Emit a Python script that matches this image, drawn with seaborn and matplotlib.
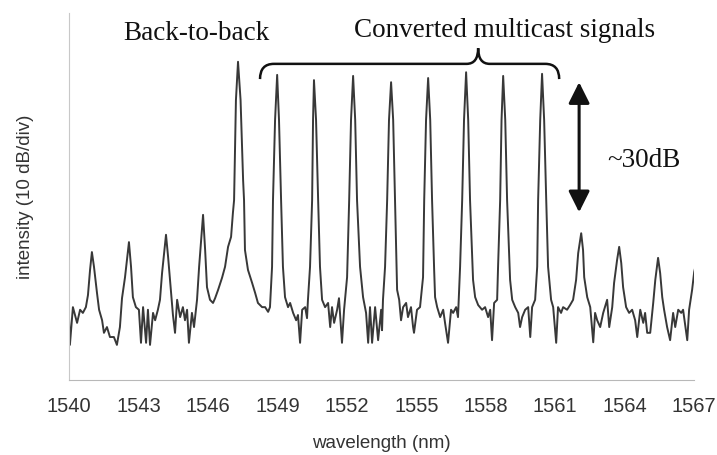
import matplotlib
matplotlib.use("Agg")
import matplotlib.pyplot as plt
import seaborn as sns
from matplotlib.path import Path
from matplotlib.patches import PathPatch, ArrowStyle

# spectrum trace: wavelength (nm), intensity (dB, 10 dB/div)
wavelength = [
    1540.00, 1540.04, 1540.17, 1540.35, 1540.48, 1540.60, 1540.73, 1540.82, 1540.91, 1540.99,
    1541.08, 1541.21, 1541.30, 1541.43, 1541.51, 1541.64, 1541.77, 1541.94, 1542.07, 1542.20,
    1542.29, 1542.42, 1542.59, 1542.68, 1542.76, 1542.89, 1543.02, 1543.11, 1543.20, 1543.33,
    1543.41, 1543.50, 1543.63, 1543.72, 1543.84, 1543.93, 1544.02, 1544.19, 1544.28, 1544.41,
    1544.49, 1544.58, 1544.67, 1544.80, 1544.92, 1545.01, 1545.10, 1545.18, 1545.31, 1545.40,
    1545.53, 1545.62, 1545.79, 1545.88, 1545.96, 1546.09, 1546.22, 1546.31, 1546.44, 1546.61,
    1546.74, 1546.87, 1547.00, 1547.08, 1547.13, 1547.21, 1547.30, 1547.41, 1547.52, 1547.56,
    1547.60, 1547.73, 1547.91, 1548.04, 1548.16, 1548.34, 1548.47, 1548.60, 1548.68, 1548.77,
    1548.81, 1548.90, 1548.99, 1549.07, 1549.16, 1549.24, 1549.33, 1549.46, 1549.55, 1549.68,
    1549.81, 1549.89, 1549.98, 1550.07, 1550.20, 1550.28, 1550.32, 1550.41, 1550.50, 1550.54,
    1550.58, 1550.67, 1550.76, 1550.84, 1550.93, 1551.06, 1551.19, 1551.28, 1551.36, 1551.45,
    1551.58, 1551.66, 1551.79, 1551.88, 1552.01, 1552.10, 1552.18, 1552.27, 1552.36, 1552.44,
    1552.57, 1552.70, 1552.83, 1552.92, 1553.00, 1553.09, 1553.22, 1553.35, 1553.48, 1553.52,
    1553.56, 1553.65, 1553.74, 1553.82, 1553.91, 1554.00, 1554.08, 1554.17, 1554.26, 1554.34,
    1554.43, 1554.56, 1554.64, 1554.77, 1554.86, 1554.90, 1555.03, 1555.16, 1555.29, 1555.34,
    1555.42, 1555.51, 1555.60, 1555.68, 1555.77, 1555.81, 1555.90, 1556.03, 1556.16, 1556.24,
    1556.37, 1556.50, 1556.59, 1556.72, 1556.80, 1556.89, 1556.98, 1557.06, 1557.15, 1557.24,
    1557.32, 1557.45, 1557.54, 1557.67, 1557.84, 1557.97, 1558.10, 1558.19, 1558.27, 1558.36,
    1558.49, 1558.53, 1558.62, 1558.68, 1558.75, 1558.84, 1558.92, 1559.05, 1559.14, 1559.27,
    1559.40, 1559.48, 1559.57, 1559.70, 1559.83, 1559.92, 1560.00, 1560.13, 1560.22, 1560.26,
    1560.35, 1560.43, 1560.52, 1560.61, 1560.69, 1560.82, 1560.91, 1561.04, 1561.12, 1561.25,
    1561.34, 1561.51, 1561.64, 1561.77, 1561.90, 1561.99, 1562.12, 1562.20, 1562.25, 1562.38,
    1562.51, 1562.64, 1562.72, 1562.81, 1562.94, 1563.07, 1563.24, 1563.33, 1563.46, 1563.54,
    1563.67, 1563.76, 1563.85, 1563.93, 1564.06, 1564.19, 1564.32, 1564.45, 1564.54, 1564.67,
    1564.80, 1564.88, 1564.97, 1565.10, 1565.23, 1565.32, 1565.44, 1565.53, 1565.62, 1565.70,
    1565.83, 1565.96, 1566.09, 1566.18, 1566.31, 1566.44, 1566.52, 1566.70, 1566.78, 1566.91,
    1567.00, 1567.04,
]
intensity = [
    12.4, 6.7, 13.9, 10.9, 13.4, 12.8, 13.9, 16.2, 21.0, 24.4,
    21.6, 16.6, 13.4, 11.4, 9.0, 10.1, 8.2, 8.2, 6.7, 10.1,
    15.6, 19.6, 26.3, 21.6, 15.8, 13.9, 13.4, 7.1, 13.9, 7.1,
    13.4, 6.7, 12.8, 11.4, 13.4, 15.3, 20.4, 27.7, 23.5, 16.6,
    12.4, 9.0, 15.3, 12.0, 13.9, 11.4, 13.4, 7.1, 12.8, 10.1,
    15.3, 21.6, 31.5, 24.8, 17.7, 15.3, 14.7, 15.6, 17.2, 19.5,
    21.6, 25.4, 27.3, 31.9, 34.3, 53.4, 60.7, 53.4, 38.1, 34.3,
    24.8, 21.0, 18.5, 16.6, 14.7, 13.9, 13.9, 13.0, 13.9, 21.6,
    34.3, 49.6, 58.2, 49.6, 34.3, 21.6, 15.8, 13.9, 14.7, 12.8,
    11.4, 12.4, 7.1, 13.4, 13.9, 11.8, 15.3, 21.6, 34.3, 49.6,
    57.2, 49.6, 34.3, 21.6, 15.3, 13.9, 14.7, 10.1, 13.9, 10.9,
    13.4, 15.6, 7.1, 13.4, 19.6, 34.3, 49.6, 58.0, 49.6, 34.3,
    21.6, 15.8, 12.8, 7.1, 13.9, 7.1, 13.9, 7.6, 13.4, 9.5,
    15.3, 21.6, 34.3, 49.6, 56.8, 49.6, 34.3, 17.2, 15.3, 11.4,
    13.9, 14.7, 12.0, 13.9, 10.1, 9.0, 13.4, 13.9, 19.6, 34.3,
    49.6, 57.6, 49.6, 34.3, 21.0, 15.8, 13.9, 12.0, 13.4, 10.9,
    7.1, 13.4, 12.8, 13.9, 12.0, 21.6, 34.3, 49.6, 58.7, 49.6,
    34.3, 19.1, 15.8, 14.3, 13.4, 13.9, 12.0, 13.4, 7.6, 14.7,
    15.3, 21.6, 34.3, 49.6, 58.0, 49.6, 34.3, 19.1, 15.3, 13.9,
    12.8, 10.1, 12.0, 13.4, 13.9, 8.2, 13.9, 15.3, 21.6, 34.3,
    49.6, 58.4, 49.6, 34.3, 21.6, 15.3, 13.9, 7.1, 13.9, 12.8,
    13.9, 13.4, 14.3, 15.3, 19.1, 24.2, 28.0, 24.8, 19.6, 15.8,
    13.9, 7.2, 12.8, 11.4, 10.1, 12.8, 15.3, 10.1, 13.9, 18.5,
    22.9, 25.4, 22.3, 17.7, 13.9, 12.8, 13.4, 11.4, 8.2, 13.4,
    10.9, 12.8, 9.0, 9.0, 14.7, 19.1, 23.3, 20.4, 15.8, 13.4,
    10.1, 7.6, 12.8, 10.1, 13.4, 12.8, 13.4, 7.6, 13.4, 17.2,
    20.6, 21.4,
]
x_ticks = [1540, 1543, 1546, 1549, 1552, 1555, 1558, 1561, 1564, 1567]
y_ticks = [0, 10, 20, 30, 40, 50, 60, 70]

sns.set_style("white")
plt.rcParams["font.family"] = ["Liberation Sans", "DejaVu Sans"]

fig = plt.figure(figsize=(7.17, 4.55), dpi=100)
ax = fig.add_axes([0.0962, 0.1648, 0.872, 0.8066])

sns.lineplot(x=wavelength, y=intensity, ax=ax, color="#383838", lw=1.4,
             sort=False, estimator=None)

ax.set_xlim(1540, 1567)
ax.set_ylim(0, 70)
ax.set_xticks(x_ticks)
ax.set_yticks(y_ticks)
ax.set_yticklabels([])
ax.tick_params(axis="x", direction="out", length=4, width=1, color="#b8b8b8",
               labelsize=14.5, labelcolor="#333333", pad=8)
ax.tick_params(axis="y", direction="out", length=4, width=1, color="#c8c8c8")
for side in ["top", "right"]:
    ax.spines[side].set_visible(False)
ax.spines["left"].set_color("#c8c8c8")
ax.spines["bottom"].set_color("#b8b8b8")
ax.set_xlabel("wavelength (nm)", fontsize=13.5, color="#333333", labelpad=14)
ax.set_ylabel("intensity (10 dB/div)", fontsize=13.5, color="#333333", labelpad=18)

# annotations
serif = ["Liberation Serif", "DejaVu Serif"]
ax.text(1545.49, 64.8, "Back-to-back", family=serif, fontsize=19.5,
        ha="center", va="baseline", color="#111111")
ax.text(1558.79, 65.4, "Converted multicast signals", family=serif, fontsize=19.5,
        ha="center", va="baseline", color="#111111")
ax.text(1563.24, 40.6, "~30dB", family=serif, fontsize=19.5,
        ha="left", va="baseline", color="#111111")

# curly brace over the converted channels
xl, xc, xr = 1548.25, 1557.67, 1561.17
yb, ye, yt = 60.3, 57.4, 63.3
verts = [(xl, ye), (xl, yb), (xl + 0.6, yb),
         (xc - 0.5, yb),
         (xc, yb), (xc, yt),
         (xc, yb), (xc + 0.5, yb),
         (xr - 0.6, yb),
         (xr, yb), (xr, ye)]
codes = [Path.MOVETO, Path.CURVE3, Path.CURVE3,
         Path.LINETO,
         Path.CURVE3, Path.CURVE3,
         Path.CURVE3, Path.CURVE3,
         Path.LINETO,
         Path.CURVE3, Path.CURVE3]
ax.add_patch(PathPatch(Path(verts, codes), facecolor="none", edgecolor="#111111",
                       lw=1.8, clip_on=False))

# double arrow showing the ~30 dB extinction
ax.annotate("", xy=(1562.03, 56.8), xytext=(1562.03, 32.0),
            arrowprops=dict(arrowstyle=ArrowStyle("<|-|>", head_length=0.8, head_width=0.4),
                            mutation_scale=16, color="#111111", lw=2.2,
                            shrinkA=0, shrinkB=0))

fig.savefig("out.png", dpi=100)
